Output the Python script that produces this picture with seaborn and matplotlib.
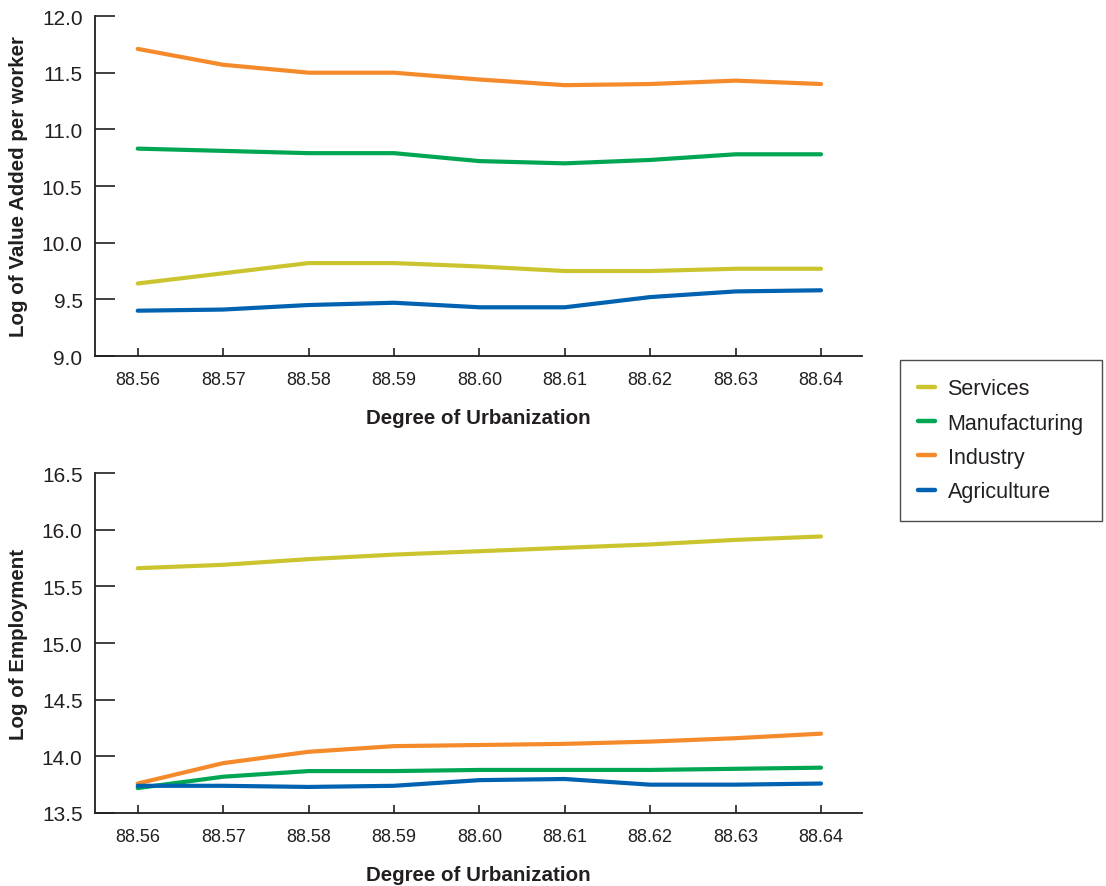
import matplotlib
matplotlib.use("Agg")
import matplotlib.pyplot as plt
import seaborn as sns
import pandas as pd
from matplotlib.lines import Line2D

sns.set_theme(style="white")
plt.rcParams['font.family'] = ['Liberation Sans', 'DejaVu Sans']

urbanization = [88.56, 88.57, 88.58, 88.59, 88.60, 88.61, 88.62, 88.63, 88.64]
x_labels = ["88.56", "88.57", "88.58", "88.59", "88.60", "88.61", "88.62", "88.63", "88.64"]
sectors = ["Services", "Manufacturing", "Industry", "Agriculture"]

va_services = [9.64, 9.73, 9.82, 9.82, 9.79, 9.75, 9.75, 9.77, 9.77]
va_manufacturing = [10.83, 10.81, 10.79, 10.79, 10.72, 10.70, 10.73, 10.78, 10.78]
va_industry = [11.71, 11.57, 11.50, 11.50, 11.44, 11.39, 11.40, 11.43, 11.40]
va_agriculture = [9.40, 9.41, 9.45, 9.47, 9.43, 9.43, 9.52, 9.57, 9.58]

emp_services = [15.66, 15.69, 15.74, 15.78, 15.81, 15.84, 15.87, 15.91, 15.94]
emp_manufacturing = [13.72, 13.82, 13.87, 13.87, 13.88, 13.88, 13.88, 13.89, 13.90]
emp_industry = [13.76, 13.94, 14.04, 14.09, 14.10, 14.11, 14.13, 14.16, 14.20]
emp_agriculture = [13.74, 13.74, 13.73, 13.74, 13.79, 13.80, 13.75, 13.75, 13.76]

colors = {"Services": "#cac52f", "Manufacturing": "#00a651",
          "Industry": "#f58a2b", "Agriculture": "#0062b1"}


def long_df(series):
    rows = []
    for name, vals in series.items():
        for xv, yv in zip(urbanization, vals):
            rows.append({"x": xv, "y": yv, "Sector": name})
    return pd.DataFrame(rows)


df_va = long_df({"Services": va_services, "Manufacturing": va_manufacturing,
                 "Industry": va_industry, "Agriculture": va_agriculture})
df_emp = long_df({"Services": emp_services, "Manufacturing": emp_manufacturing,
                  "Industry": emp_industry, "Agriculture": emp_agriculture})

fig = plt.figure(figsize=(11.06, 8.87), dpi=100)
ax1 = fig.add_axes([0.0859, 0.5975, 0.6935, 0.3833])
ax2 = fig.add_axes([0.0859, 0.0823, 0.6935, 0.3833])

text_color = "#231f20"

for ax, df, ylim, yticks, ylabel in [
    (ax1, df_va, (9.0, 12.0), [9.0, 9.5, 10.0, 10.5, 11.0, 11.5, 12.0], "Log of Value Added per worker"),
    (ax2, df_emp, (13.5, 16.5), [13.5, 14.0, 14.5, 15.0, 15.5, 16.0, 16.5], "Log of Employment"),
]:
    sns.lineplot(data=df, x="x", y="y", hue="Sector", hue_order=sectors,
                 palette=colors, linewidth=3.0, ax=ax, legend=False)
    ax.set_xlim(88.555, 88.6448)
    ax.set_ylim(*ylim)
    ax.set_xticks(urbanization)
    ax.set_xticklabels(x_labels, fontsize=13, color=text_color)
    ax.set_yticks(yticks)
    ax.set_yticklabels([f"{t:.1f}" for t in yticks], fontsize=15, color=text_color)
    for s in ["top", "right"]:
        ax.spines[s].set_visible(False)
    for s in ["left", "bottom"]:
        ax.spines[s].set_color("#231f20")
        ax.spines[s].set_linewidth(1.3)
    ax.tick_params(axis="y", direction="in", length=14.5, width=1.2, pad=9, color="#231f20", left=True)
    ax.tick_params(axis="x", direction="in", length=6, width=1.2, pad=11, color="#231f20", bottom=True)
    ax.set_xlabel("Degree of Urbanization", fontsize=14.8, fontweight="bold", color=text_color, labelpad=14)
    ax.set_ylabel(ylabel, fontsize=14.8, fontweight="bold", color=text_color, labelpad=10)
    ax.grid(False)

handles = [Line2D([0], [0], color=colors[s], linewidth=3.2) for s in sectors]
leg = fig.legend(handles, sectors, loc="upper left", bbox_to_anchor=(0.8137, 0.593),
                 bbox_transform=fig.transFigure, frameon=True, fontsize=15.5,
                 handlelength=0.8, handletextpad=0.56, borderpad=0.85, labelspacing=0.62,
                 fancybox=False, borderaxespad=0)
leg.get_frame().set_edgecolor("#231f20")
leg.get_frame().set_linewidth(1.0)
for t in leg.get_texts():
    t.set_color(text_color)

fig.savefig("out.png", dpi=100)
